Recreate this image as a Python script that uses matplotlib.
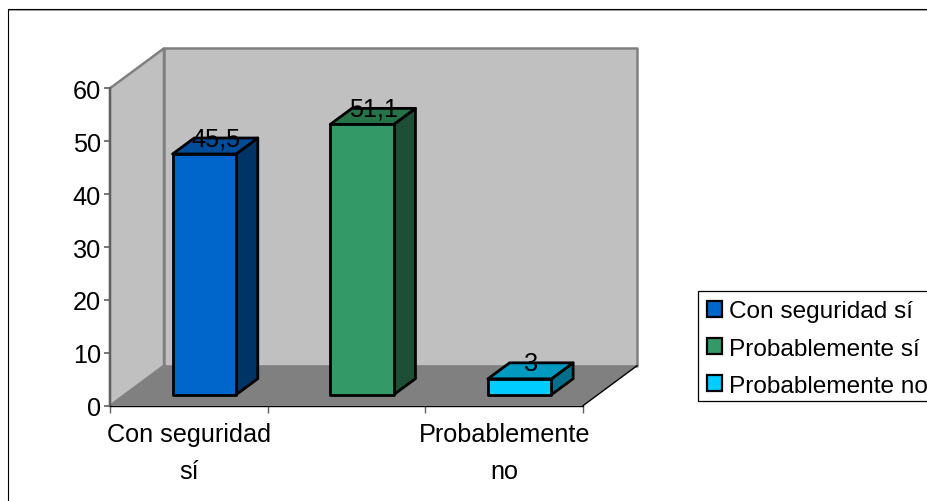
import matplotlib
matplotlib.use("Agg")
import matplotlib.pyplot as plt
from matplotlib.patches import Patch, Rectangle, Polygon

plt.rcParams['font.family'] = ['Liberation Sans', 'DejaVu Sans']

# Data
series_names = ["Con seguridad sí", "Probablemente sí", "Probablemente no"]
series_values = [45.5, 51.1, 3]
value_labels = ["45,5", "51,1", "3"]
x_labels = ["Con seguridad\nsí", "", "Probablemente\nno"]
y_ticks = [0, 10, 20, 30, 40, 50, 60]

# Styles
front_colors = ["#0066CC", "#339966", "#00CCFF"]
side_colors = ["#003366", "#1C4F36", "#006F8C"]
top_colors = ["#004C99", "#267349", "#0099BF"]
W, H = 928, 502
FS = 18.2

fig = plt.figure(figsize=(W / 100, H / 100), dpi=100, facecolor="white")


def frame_from_px(x0, y0, x1, y1, lw, ec="black"):
    """Outline rectangle given in pixels from the top-left; edges past the figure are cut off."""
    fig.add_artist(Rectangle((x0 / W, 1 - y1 / H), (x1 - x0) / W, (y1 - y0) / H, transform=fig.transFigure,
                             fill=False, ec=ec, lw=lw))


# Chart border: only its top and left edges lie inside the picture
frame_from_px(8.5, 10.5, W + 40, H + 40, 0.7, "#A8A8A8")
frame_from_px(7.5, 9.5, W + 40, H + 40, 0.8)

# Front plane of the 3-D box
left, right, bottom, top = 110, 583, 406.7, 89.3
ax = fig.add_axes([left / W, 1 - bottom / H, (right - left) / W, (bottom - top) / H])
ax.set_xlim(0, 3)
ax.set_ylim(0, 60)
ax.patch.set_visible(False)
px_x = 3 / (right - left)
px_y = 60 / (bottom - top)

# Depth vectors, converted from pixels to data units
box_dx, box_dy = 54 * px_x, 40 * px_y
wall_kw = dict(clip_on=False, lw=1.8, ec="#808080", joinstyle="round")
ax.add_patch(Polygon([(0, 0), (box_dx, box_dy), (box_dx, 60 + box_dy), (0, 60)], fc="#C0C0C0", zorder=1, **wall_kw))
ax.add_patch(Polygon([(box_dx, box_dy), (3 + box_dx, box_dy), (3 + box_dx, 60 + box_dy), (box_dx, 60 + box_dy)],
                     fc="#C0C0C0", zorder=1, **wall_kw))
ax.add_patch(Polygon([(0, 0), (3, 0), (3 + box_dx, box_dy), (box_dx, box_dy)], fc="#808080", ec="none",
                     clip_on=False, zorder=2))
ax.plot([3, 3 + box_dx], [0, box_dy], color="black", lw=1, clip_on=False, zorder=2.5)

# Bars
bar_w = 63.5 * px_x
off_x, off_y = 15.5 * px_x, 11 * px_y
dep_x, dep_y = 21.7 * px_x, 16 * px_y
bar_kw = dict(ec="black", lw=2, clip_on=False, zorder=4, joinstyle="round")
for i, v in enumerate(series_values):
    x0 = i + 0.5 - bar_w / 2 + off_x
    x1 = x0 + bar_w
    y0 = off_y
    y1 = off_y + v
    ax.add_patch(Polygon([(x1, y0), (x1 + dep_x, y0 + dep_y), (x1 + dep_x, y1 + dep_y), (x1, y1)],
                         fc=side_colors[i], **bar_kw))
    ax.add_patch(Polygon([(x0, y1), (x1, y1), (x1 + dep_x, y1 + dep_y), (x0 + dep_x, y1 + dep_y)],
                         fc=top_colors[i], **bar_kw))
    ax.add_patch(Rectangle((x0, y0), bar_w, v, fc=front_colors[i], **bar_kw))
    ax.text((x0 + x1) / 2 + dep_x / 2 + 0.5 * px_x, y1 + dep_y - 0.1, value_labels[i], ha="center", va="center",
            fontsize=FS, color="black", zorder=6, clip_on=False)

# Axes
for s in ("top", "right"):
    ax.spines[s].set_visible(False)
ax.spines["left"].set_color("#606060")
ax.spines["left"].set_linewidth(1.6)
ax.spines["bottom"].set_color("black")
ax.spines["bottom"].set_linewidth(1.0)
ax.spines["left"].set_zorder(3)
ax.spines["bottom"].set_zorder(3)
ax.set_yticks(y_ticks)
ax.tick_params(axis="y", length=4, width=1.2, color="#606060", labelsize=FS, pad=2.5)
ax.set_xticks([0, 1, 2, 3])
ax.set_xticklabels([])
ax.tick_params(axis="x", which="major", length=5, width=1, color="#606060")
ax.set_xticks([0.5, 1.5, 2.5], minor=True)
ax.set_xticklabels(x_labels, minor=True, fontsize=FS, linespacing=1.65)
ax.tick_params(axis="x", which="minor", length=0, pad=12)

# Legend: its frame runs past the right edge of the picture
frame_from_px(698.5, 292, W + 40, 401.5, 0.9)
handles = [Patch(fc=front_colors[i], ec="black", lw=1.6) for i in range(3)]
leg = fig.legend(handles, series_names, loc="lower left", bbox_to_anchor=(700 / W, 1 - 405 / H),
                 bbox_transform=fig.transFigure, fontsize=FS * 0.965, frameon=False,
                 borderaxespad=0, borderpad=0.3,
                 handlelength=0.6, handleheight=0.6, handletextpad=0.3, labelspacing=0.62)

fig.savefig("out.png", dpi=100)
